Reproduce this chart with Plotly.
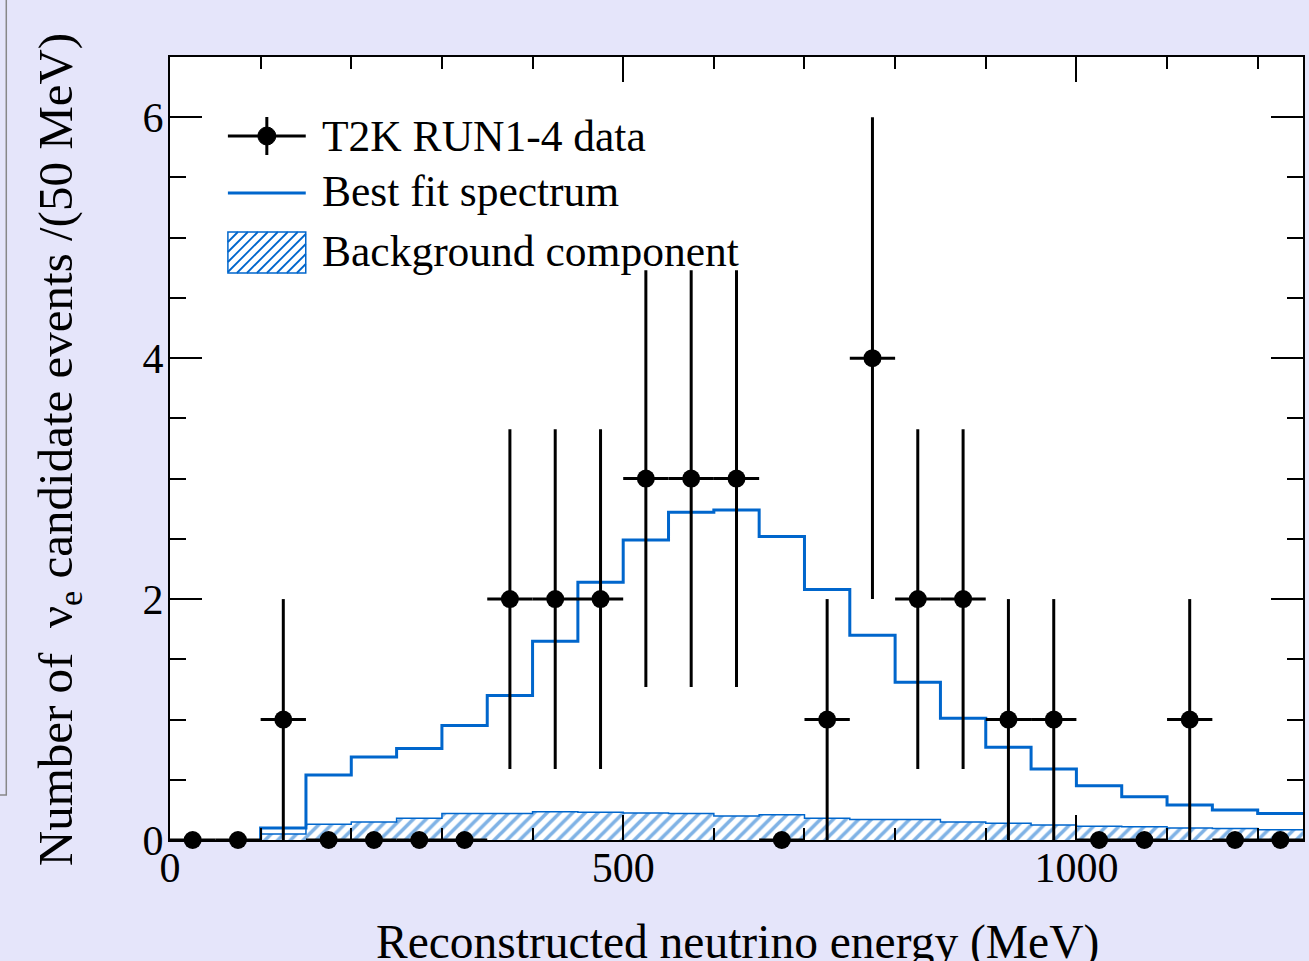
import plotly.graph_objects as go

# ---------------- data ----------------
data_centers = [25, 75, 125, 175, 225, 275, 325, 375, 425, 475, 525, 575, 625,
                675, 725, 775, 825, 875, 925, 975, 1025, 1075, 1125, 1175, 1225]
data_counts = [0, 0, 1, 0, 0, 0, 0, 2, 2, 2, 3, 3, 3,
               0, 1, 4, 2, 2, 1, 1, 0, 0, 1, 0, 0]
data_err_y = [0, 0, 1, 0, 0, 0, 0, 1.41, 1.41, 1.41, 1.73, 1.73, 1.73,
              0, 1, 2, 1.41, 1.41, 1, 1, 0, 0, 1, 0, 0]
data_half_width = [25] * len(data_centers)

bin_low = [100, 150, 200, 250, 300, 350, 400, 450, 500, 550, 600, 650, 700,
           750, 800, 850, 900, 950, 1000, 1050, 1100, 1150, 1200]
bin_width = 50
best_fit = [0.10, 0.54, 0.69, 0.76, 0.95, 1.20, 1.65, 2.14, 2.49, 2.72, 2.74, 2.52, 2.08,
            1.70, 1.31, 1.01, 0.77, 0.59, 0.45, 0.36, 0.29, 0.25, 0.22]
background = [0.05, 0.13, 0.15, 0.18, 0.22, 0.22, 0.235, 0.23, 0.225, 0.22, 0.20, 0.21, 0.18,
              0.17, 0.17, 0.15, 0.14, 0.125, 0.115, 0.11, 0.10, 0.095, 0.085]

x_ticks = [0, 500, 1000]
y_ticks = [0, 2, 4, 6]

BLUE = "#0066cc"
FONT = "Liberation Serif, Times New Roman, serif"
PAGE_BG = "#e5e5fa"

# step arrays built from the bins
edges = bin_low + [bin_low[-1] + bin_width]
step_x = [bin_low[0]] + edges
fit_y = [0] + best_fit + [best_fit[-1]]
bkg_y = [0] + background + [background[-1]]

fig = go.Figure()

# background component (hatched)
fig.add_trace(go.Scatter(
    x=step_x, y=bkg_y, mode="lines", line=dict(color=BLUE, width=1.5, shape="hv"),
    fill="tozeroy", fillcolor="white",
    fillpattern=dict(shape="/", fgcolor=BLUE, bgcolor="white", size=9, solidity=0.4),
    showlegend=False, hoverinfo="skip"))

# best fit spectrum
fig.add_trace(go.Scatter(
    x=step_x, y=fit_y, mode="lines", line=dict(color=BLUE, width=3, shape="hv"),
    showlegend=False))

# data points
fig.add_trace(go.Scatter(
    x=data_centers, y=data_counts, mode="markers",
    marker=dict(color="black", size=18),
    error_y=dict(type="data", array=data_err_y, color="black", thickness=3, width=0),
    error_x=dict(type="data", array=data_half_width, color="black", thickness=3, width=0),
    cliponaxis=False, showlegend=False))

# ---------------- layout ----------------
L, R, T, B = 170, 1305, 57, 840
W, H = R - L, B - T


def px(x):
    return (x - L) / W


def py(y):
    return (B - y) / H


shapes = []
annotations = []

# custom legend
# entry 1: data (marker with error cross)
shapes.append(dict(type="line", xref="paper", yref="paper", x0=px(228), x1=px(306),
                   y0=py(136), y1=py(136), line=dict(color="black", width=3)))
shapes.append(dict(type="line", xref="paper", yref="paper", x0=px(267), x1=px(267),
                   y0=py(117), y1=py(155), line=dict(color="black", width=3)))
shapes.append(dict(type="circle", xref="paper", yref="paper", x0=px(258), x1=px(276),
                   y0=py(145), y1=py(127), fillcolor="black", line=dict(color="black", width=1)))
# entry 2: best fit line
shapes.append(dict(type="line", xref="paper", yref="paper", x0=px(228), x1=px(306),
                   y0=py(193), y1=py(193), line=dict(color=BLUE, width=3)))
# entry 3: hatched box
bx0, bx1, by0, by1 = 228, 306, 232, 273
path = ""
step = 10
k = bx0 - (by1 - by0)
while k < bx1:
    xa, ya = k, by1
    xb, yb = k + (by1 - by0), by0
    if xa < bx0:
        ya = by1 - (bx0 - xa)
        xa = bx0
    if xb > bx1:
        yb = by0 + (xb - bx1)
        xb = bx1
    if xb > xa:
        path += f"M{px(xa)},{py(ya)} L{px(xb)},{py(yb)} "
    k += step
shapes.append(dict(type="path", xref="paper", yref="paper", path=path,
                   line=dict(color=BLUE, width=1.8)))
shapes.append(dict(type="rect", xref="paper", yref="paper", x0=px(bx0), x1=px(bx1),
                   y0=py(by1), y1=py(by0), line=dict(color=BLUE, width=1.5)))

legend_texts = ["T2K RUN1-4 data", "Best fit spectrum", "Background component"]
legend_ys = [136, 191, 251]
for t, yy in zip(legend_texts, legend_ys):
    annotations.append(dict(text=t, xref="paper", yref="paper", x=px(320), y=py(yy),
                            xanchor="left", yanchor="middle", showarrow=False,
                            font=dict(family=FONT, size=43.5, color="black")))

# axis titles
annotations.append(dict(text="Reconstructed neutrino energy (MeV)", xref="paper", yref="paper",
                        x=px(739), y=py(942), xanchor="center", yanchor="middle", showarrow=False,
                        font=dict(family=FONT, size=47.5, color="black")))
annotations.append(dict(text="Number of &nbsp;ν<sub>e</sub> candidate events /(50 MeV)",
                        xref="paper", yref="paper", textangle=-90,
                        x=px(58), y=py(450), xanchor="center", yanchor="middle", showarrow=False,
                        font=dict(family=FONT, size=49, color="black")))

# grey frame artefact at the far left
shapes.append(dict(type="path", xref="paper", yref="paper",
                   path=f"M{px(-2)},{py(795)} L{px(6)},{py(795)} L{px(6)},{py(-5)}",
                   line=dict(color="#888888", width=1.5)))

axis_common = dict(showline=True, linecolor="black", linewidth=2, mirror="ticks",
                   ticks="inside", tickwidth=2, tickcolor="black", showgrid=False,
                   zeroline=False, tickfont=dict(family=FONT, size=42, color="black"))

fig.update_layout(
    width=1309, height=961,
    margin=dict(l=L, r=1309 - R, t=T, b=961 - B),
    paper_bgcolor=PAGE_BG, plot_bgcolor="white",
    showlegend=False,
    shapes=shapes, annotations=annotations,
    xaxis=dict(range=[0, 1250], tickvals=x_ticks, ticklen=25,
               minor=dict(dtick=100, ticklen=12, tickwidth=2, ticks="inside", tickcolor="black"),
               ticklabelstandoff=-10, **axis_common),
    yaxis=dict(range=[0, 6.5], tickvals=y_ticks, ticklen=32,
               minor=dict(dtick=0.5, ticklen=16, tickwidth=2, ticks="inside", tickcolor="black"),
               ticklabelstandoff=-4, **axis_common),
)

fig.write_html("out.html",
               config={"displayModeBar": False},
               post_script="document.body.style.margin='0';document.body.style.padding='0';"
                           "document.documentElement.style.background='" + PAGE_BG + "';")
